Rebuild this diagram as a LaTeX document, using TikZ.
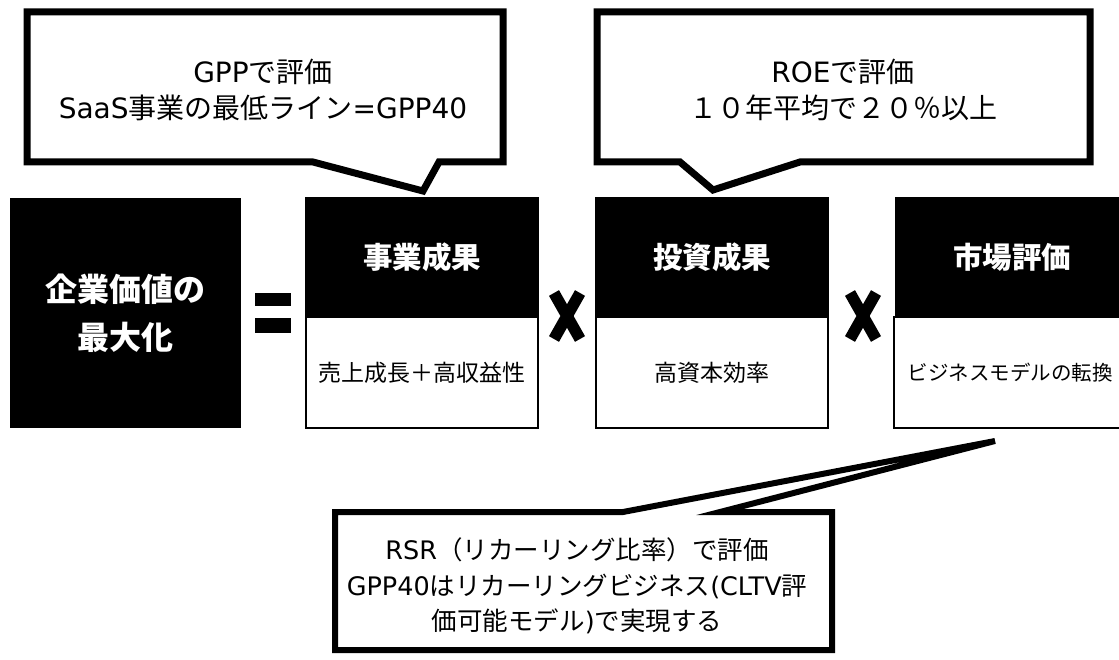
\documentclass[tikz,border=0pt]{standalone}
\usepackage{fontspec}
\newfontfamily\jp{Noto Sans CJK JP}
\newfontfamily\lat{DejaVu Sans}
\newcommand\La[1]{{\lat #1}}
\tikzset{
  callout/.style={draw=black, line width=7pt, fill=white, line join=miter},
  calltext/.style={align=center, inner sep=0pt, font=\jp\fontsize{28}{36}\selectfont},
  hdr/.style={fill=black, draw=black, line width=2pt, text=white, minimum width=232pt, minimum height=119pt, inner sep=0pt, font=\jp\bfseries\fontsize{29.5}{34}\selectfont},
  bodybox/.style={fill=white, draw=black, line width=2pt, minimum width=232pt, minimum height=111pt, inner sep=0pt, font=\jp\fontsize{23}{28}\selectfont},
  mainbox/.style={fill=black, text=white, minimum width=231pt, minimum height=230pt, inner sep=0pt, align=center, font=\jp\bfseries\fontsize{32}{48}\selectfont},
  xmark/.style={line width=11.5pt, line cap=butt}
}
\begin{document}
\begin{tikzpicture}[x=1pt,y=-1pt]
\useasboundingbox (0,0) rectangle (1119,660);
\clip (0,0) rectangle (1119,660);
\fill[white] (0,0) rectangle (1119,660);

% callout 1
\draw[callout] (27,12) -- (503,12) -- (503,162) -- (439,162) -- (423,191) -- (313,162) -- (27,162) -- cycle;
\node[calltext] (c1) at (263,90) {\La{GPP}で評価\\\La{SaaS}事業の最低ライン\La{=GPP40}};

% callout 2
\draw[callout] (597,12) -- (1090,12) -- (1090,162) -- (800,162) -- (713,190) -- (680,162) -- (597,162) -- cycle;
\node[calltext] (c2) at (843,90) {\La{ROE}で評価\\１０年平均で２０％以上};

% main box
\node[mainbox] (main) at (125.5,313) {企業価値の\\最大化};

% equals sign
\fill (255,293) rectangle (291,306.5);
\fill (255,318.5) rectangle (291,332.5);

% box 1
\node[bodybox] (b1) at (422,372.5) {売上成長＋高収益性};
\node[hdr] (h1) at (422,257.5) {事業成果};
% box 2
\node[bodybox] (b2) at (712,372.5) {高資本効率};
\node[hdr] (h2) at (712,257.5) {投資成果};
% box 3
\node[bodybox, font=\jp\fontsize{20.5}{26}\selectfont] (b3) at (1010,372.5) {ビジネスモデルの転換};
\node[hdr] (h3) at (1012,257.5) {市場評価};

% X marks
\draw[xmark] (554,293) -- (580,339) (580,293) -- (554,339);
\draw[xmark] (850,293) -- (876,339) (876,293) -- (850,339);

% callout 3
\draw[callout, line width=6pt] (623,512) -- (995,441) -- (720,512) -- (832,512) -- (832,650) -- (335,650) -- (335,512) -- cycle;
\node[calltext, font=\jp\fontsize{25.5}{35.5}\selectfont] (c3) at (577,586) {\La{RSR}（リカーリング比率）で評価\\\La{GPP40}はリカーリングビジネス\La{(CLTV}評\\価可能モデル\La{)}で実現する};
\end{tikzpicture}
\end{document}
